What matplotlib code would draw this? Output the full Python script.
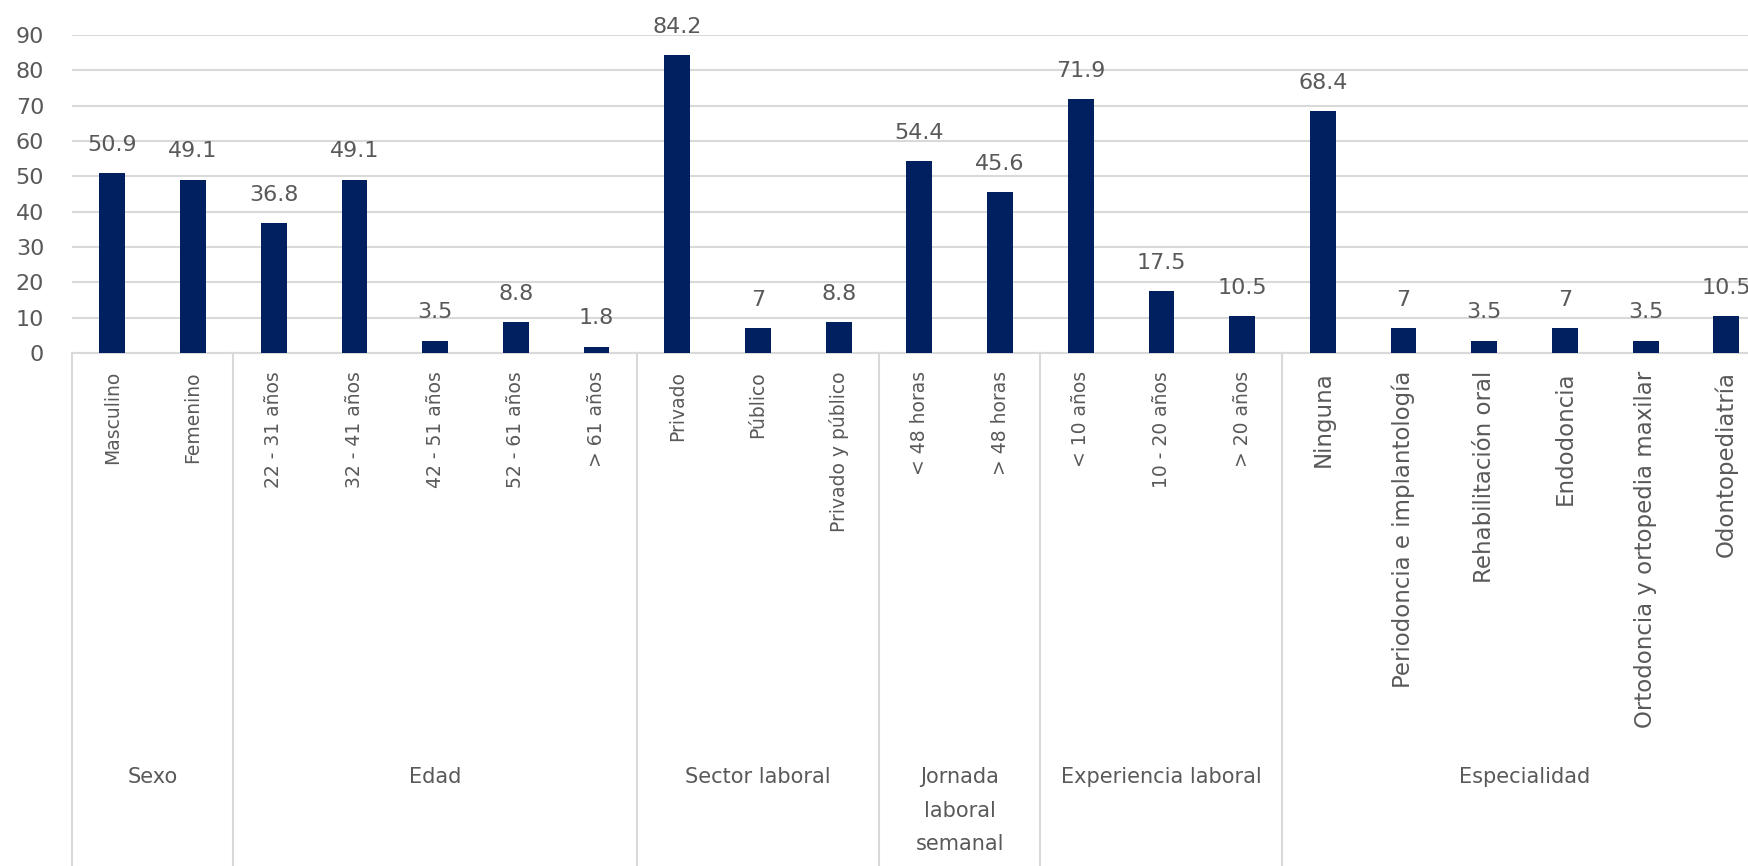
import matplotlib
matplotlib.use("Agg")
import matplotlib.pyplot as plt
from matplotlib.lines import Line2D
from matplotlib.transforms import blended_transform_factory

# --- datos ---
categorias = [
    "Masculino", "Femenino",
    "22 - 31 años", "32 - 41 años", "42 - 51 años", "52 - 61 años", "> 61 años",
    "Privado", "Público", "Privado y público",
    "< 48 horas", "> 48 horas",
    "< 10 años", "10 - 20 años", "> 20 años",
    "Ninguna", "Periodoncia e implantología", "Rehabilitación oral", "Endodoncia",
    "Ortodoncia y ortopedia maxilar", "Odontopediatría",
]
valores = [50.9, 49.1, 36.8, 49.1, 3.5, 8.8, 1.8, 84.2, 7, 8.8,
           54.4, 45.6, 71.9, 17.5, 10.5, 68.4, 7, 3.5, 7, 3.5, 10.5]
grupos = ["Sexo", "Edad", "Sector laboral", "Jornada\nlaboral\nsemanal",
          "Experiencia laboral", "Especialidad"]
grupo_tam = [2, 5, 3, 2, 3, 6]

W, H = 1749, 866
AZUL = "#002060"
GRIS_TXT = "#595959"
GRIS_LIN = "#D9D9D9"

plt.rcParams["font.family"] = ["DejaVu Sans"]
fig = plt.figure(figsize=(W / 100, H / 100), dpi=100)

x0, y_top, y_bot = 72, 35, 353
paso = 80.7
n = len(categorias)
ax = fig.add_axes([x0 / W, (H - y_bot) / H, n * paso / W, (y_bot - y_top) / H])

pos = [i + 0.5 for i in range(n)]
ax.bar(pos, valores, width=0.32, color=AZUL, zorder=3)
ax.set_xlim(0, n)
ax.set_ylim(0, 90)
ax.set_yticks(range(0, 91, 10))
ax.yaxis.grid(True, color=GRIS_LIN, linewidth=1.5, zorder=0)
for s in ["top", "right", "left"]:
    ax.spines[s].set_visible(False)
ax.spines["bottom"].set_color(GRIS_LIN)
ax.spines["bottom"].set_linewidth(1.5)
ax.tick_params(axis="y", length=0, pad=20, labelsize=16, labelcolor=GRIS_TXT)
ax.set_xticks(pos)
ax.set_xticklabels(categorias, rotation=90, va="top", ha="center")
ax.tick_params(axis="x", length=0, pad=13, labelsize=13.5, labelcolor=GRIS_TXT)
# las etiquetas de Especialidad salen con letra más grande
for lbl in ax.get_xticklabels()[15:]:
    lbl.set_fontsize(16.5)

for x, v in zip(pos, valores):
    ax.annotate(f"{v:g}", (x, v), xytext=(0, 16), textcoords="offset points",
                ha="center", va="baseline", fontsize=16, color=GRIS_TXT,
                annotation_clip=False)

# separadores de grupos y etiquetas
tr = blended_transform_factory(ax.transData, fig.transFigure)
y_eje = (H - y_bot) / H
inicio = 0
fig.add_artist(Line2D([0, 0], [y_eje, 0], transform=tr, color=GRIS_LIN, lw=1.5))
for g, k in zip(grupos, grupo_tam):
    fin = inicio + k
    fig.add_artist(Line2D([fin, fin], [y_eje, 0], transform=tr, color=GRIS_LIN, lw=1.5))
    fig.text((inicio + fin) / 2, (H - 767) / H, g, transform=tr, ha="center",
             va="top", fontsize=15, color=GRIS_TXT, linespacing=1.85)
    inicio = fin

fig.savefig("out.png", dpi=100)
